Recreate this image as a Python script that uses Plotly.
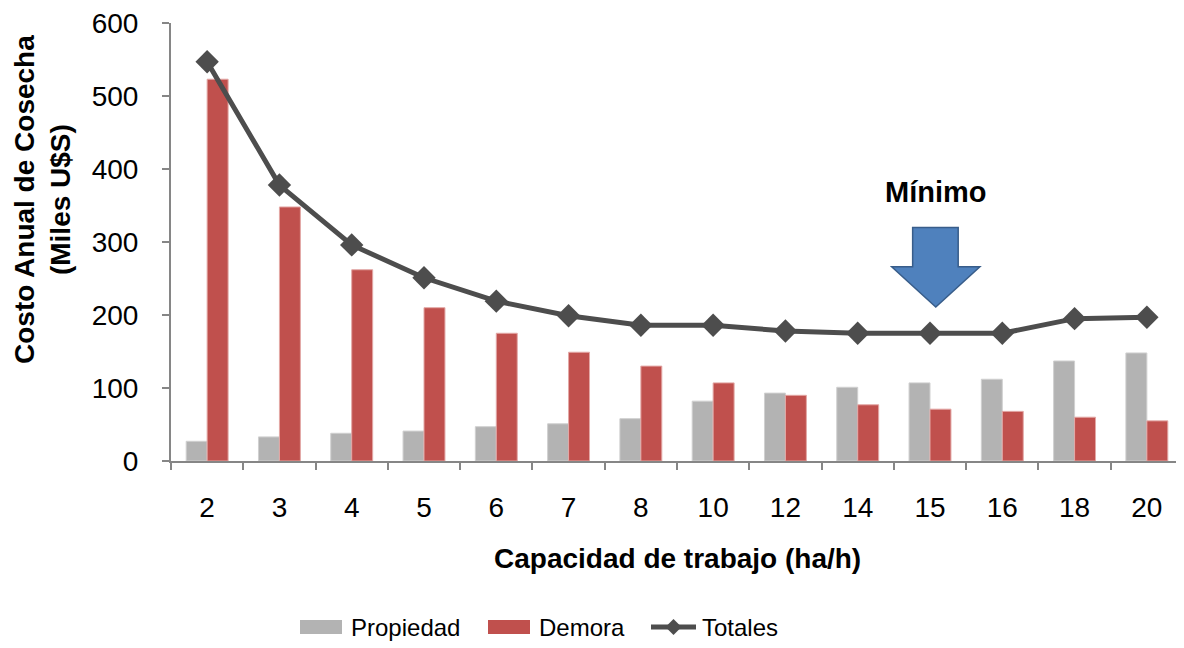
import plotly.graph_objects as go

categories = ["2", "3", "4", "5", "6", "7", "8", "10", "12", "14", "15", "16", "18", "20"]
propiedad = [27, 33, 38, 41, 47, 51, 58, 82, 93, 101, 107, 112, 137, 148]
demora = [523, 348, 262, 210, 175, 149, 130, 107, 90, 77, 71, 68, 60, 55]
totales = [547, 378, 296, 251, 219, 199, 186, 186, 178, 175, 175, 175, 195, 197]

xpos = list(range(len(categories)))
FONT = "Liberation Sans, Arial, sans-serif"

# page pixel -> paper coordinate helpers (plot area spans x 171..1183, y 23..461)
PL, PR, PT, PB = 171, 1183, 23, 461
def px(x):
    return (x - PL) / (PR - PL)
def py(y):
    return (PB - y) / (PB - PT)

fig = go.Figure()
fig.add_trace(go.Bar(x=xpos, y=propiedad, name="Propiedad",
                     marker=dict(color="#B3B3B3", line=dict(width=1, color="#D0D0D0"))))
fig.add_trace(go.Bar(x=xpos, y=demora, name="Demora",
                     marker=dict(color="#C0504D", line=dict(width=1, color="#E3A8A6"))))
fig.add_trace(go.Scatter(x=xpos, y=totales, name="Totales", mode="lines+markers",
                         line=dict(color="#4D4D4D", width=5),
                         marker=dict(symbol="diamond", size=18, color="#4D4D4D")))

# arrow pointing to the minimum (index of "15")
ai = categories.index("15") + 0.08
arrow = (f"M {ai-0.32},320 L {ai+0.31},320 L {ai+0.31},266 L {ai+0.61},266 "
         f"L {ai},211 L {ai-0.61},266 L {ai-0.32},266 Z")
fig.add_shape(type="path", path=arrow, xref="x", yref="y",
              fillcolor="#4F81BD", line=dict(color="#385D8A", width=1.5))
fig.add_annotation(x=ai, y=368, xref="x", yref="y", text="<b>Mínimo</b>", showarrow=False,
                   font=dict(size=29, color="black", family=FONT))

# axis titles
fig.add_annotation(xref="paper", yref="paper", x=px(43), y=py(200), xanchor="center", yanchor="middle",
                   text="<b>Costo Anual de Cosecha<br>(Miles U$S)</b>", textangle=-90, showarrow=False,
                   font=dict(size=28, color="black", family=FONT))
fig.add_annotation(xref="paper", yref="paper", x=px(677), y=py(558), xanchor="center", yanchor="middle",
                   text="<b>Capacidad de trabajo (ha/h)</b>", showarrow=False,
                   font=dict(size=28, color="black", family=FONT))

# custom legend
LY = 627
legend_items = [("Propiedad", "#B3B3B3", 300, "bar"), ("Demora", "#C0504D", 488, "bar"), ("Totales", "#4D4D4D", 651, "line")]
for name, col, x0, kind in legend_items:
    if kind == "bar":
        fig.add_shape(type="rect", xref="paper", yref="paper", x0=px(x0), x1=px(x0 + 42),
                      y0=py(LY + 7), y1=py(LY - 7), fillcolor=col, line=dict(width=0))
    else:
        fig.add_shape(type="line", xref="paper", yref="paper", x0=px(x0), x1=px(x0 + 45),
                      y0=py(LY), y1=py(LY), line=dict(color=col, width=5))
        cx = x0 + 22.5
        d = 8
        fig.add_shape(type="path", xref="paper", yref="paper",
                      path=f"M {px(cx)},{py(LY-d)} L {px(cx+d)},{py(LY)} L {px(cx)},{py(LY+d)} L {px(cx-d)},{py(LY)} Z",
                      fillcolor=col, line=dict(width=0))
    fig.add_annotation(xref="paper", yref="paper", x=px(x0 + 49), y=py(LY), xanchor="left", yanchor="middle",
                       text=name, showarrow=False, font=dict(size=24, color="black", family=FONT))

fig.update_layout(
    width=1176, height=640,
    margin=dict(l=163, r=1, t=15, b=187),
    paper_bgcolor="white", plot_bgcolor="white",
    barmode="group", bargap=0.42, bargroupgap=0,
    font=dict(family=FONT, size=28, color="black"),
    showlegend=False,
    xaxis=dict(range=[-0.5, 13.5], tickmode="array", tickvals=xpos, ticktext=categories,
               showline=True, linecolor="#868686", linewidth=2, ticks="", showgrid=False, zeroline=False,
               tickfont=dict(size=28), ticklabelstandoff=20, ticklabeloverflow="allow"),
    yaxis=dict(range=[0, 600], dtick=100, showline=True, linecolor="#868686", linewidth=2,
               ticks="outside", ticklen=7, tickcolor="#868686", tickwidth=2, showgrid=False, zeroline=False,
               tickfont=dict(size=28), ticklabelstandoff=18, ticklabeloverflow="allow"),
)
fig.update_xaxes(minor=dict(tickmode="array", tickvals=[i - 0.5 for i in range(len(categories) + 1)],
                            ticks="outside", ticklen=7, tickcolor="#868686", tickwidth=2, showgrid=False))

fig.write_html("out.html")
